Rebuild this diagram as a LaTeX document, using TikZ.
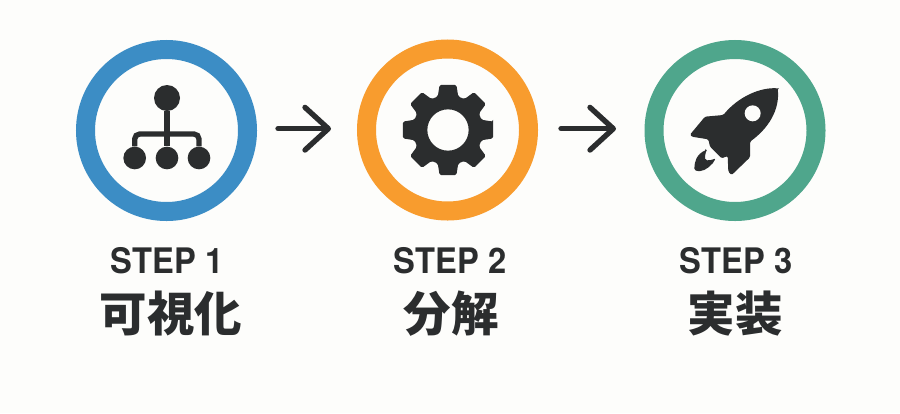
\documentclass[tikz,border=0pt]{standalone}
\usepackage{fontspec}
\setmainfont{Noto Sans CJK JP}
\newfontfamily\stepfont[FakeStretch=.93]{TeX Gyre Heros}
\usetikzlibrary{arrows.meta}

\definecolor{paper}{HTML}{FDFDFB}
\definecolor{ink}{HTML}{2B2D2E}
\definecolor{stepblue}{HTML}{3C8DC5}
\definecolor{steporange}{HTML}{F89C2E}
\definecolor{stepgreen}{HTML}{4FA68C}

\tikzset{
  ring/.style = {circle, draw=#1, line width=.57cm, minimum size=4.86cm, inner sep=0pt},
  steplabel/.style = {text=ink, font=\stepfont\fontsize{30}{30}\selectfont\bfseries, inner sep=0pt},
  titlelabel/.style = {text=ink, font=\fontsize{40.5}{40.5}\selectfont\bfseries, inner sep=0pt},
  nextarrow/.style = {draw=ink, line width=.16cm, line cap=round,
    -{Straight Barb[length=.7cm, width=1.28cm, round]}},
  icon/.style = {fill=ink, draw=none},
  iconline/.style = {draw=ink, line width=.16cm, rounded corners=.15cm}
}

\begin{document}
\begin{tikzpicture}[x=.03cm, y=-.03cm]
  \useasboundingbox (0,0) rectangle (900,413);
  \fill[paper] (0,0) rectangle (900,413);

  \node[ring=stepblue] (ring1) at (166.5,130.5) {};
  \node[ring=steporange] (ring2) at (447.5,130) {};
  \node[ring=stepgreen] (ring3) at (735,130.5) {};

  % arrows
  \coordinate (arrow1a) at (278,128.7);
  \coordinate (arrow1b) at (331,128.7);
  \coordinate (arrow2a) at (561,128.7);
  \coordinate (arrow2b) at (616,128.7);
  \draw[nextarrow] (arrow1a) -- (arrow1b);
  \draw[nextarrow] (arrow2a) -- (arrow2b);

  % tree icon
  \node[circle, icon, minimum size=.78cm, inner sep=0pt] (root) at (167,98) {};
  \foreach \name/\x in {leafa/134.7, leafb/167, leafc/199}
    \node[circle, icon, minimum size=.68cm, inner sep=0pt] (\name) at (\x,158) {};
  \draw[iconline] (root) -- (leafb);
  \draw[iconline] (leafa) -- (134.7,134) -- (199,134) -- (leafc);

  % gear icon
  \fill[icon, even odd rule, rounded corners=.05cm]
    (448,130) ++(-10.5:46)
    \foreach \a in {0,45,...,315} {
      -- ([shift={(448,130)}]\a-10.5:46) -- ([shift={(448,130)}]\a+10.5:46)
      -- ([shift={(448,130)}]\a+17:35) -- ([shift={(448,130)}]\a+28:35)
    } -- cycle
    (448,130) circle[radius=.62cm];

  % rocket icon
  \begin{scope}[shift={(640,40)}, scale=1/3]
    \fill[icon, rounded corners=.04cm]
      (413,145) .. controls (360,142) and (295,170) .. (250,225)
      -- (195,230) -- (150,284) -- (155,290) -- (205,298) -- (210,320) -- (245,355) -- (263,348)
      -- (265,395) -- (275,405) -- (330,352) -- (330,305)
      .. controls (385,265) and (420,210) .. cycle;
    \fill[paper] (338,220) circle[radius=24];
    \fill[icon, rounded corners=.04cm]
      (199,330) .. controls (170,342) and (163,365) .. (163,390)
      -- (175,394) .. controls (198,392) and (218,374) .. (227,355)
      .. controls (216,360) and (206,362) .. (197,360)
      .. controls (194,352) and (196,342) .. cycle;
  \end{scope}

  % labels
  \node[steplabel] (step1) at (167,260.5) {STEP 1};
  \node[steplabel] (step2) at (450,260.5) {STEP 2};
  \node[steplabel] (step3) at (736,260.5) {STEP 3};
  \node[titlelabel] (title1) at (171,314) {可視化};
  \node[titlelabel] (title2) at (451,314) {分解};
  \node[titlelabel] (title3) at (735,314) {実装};
\end{tikzpicture}
\end{document}
